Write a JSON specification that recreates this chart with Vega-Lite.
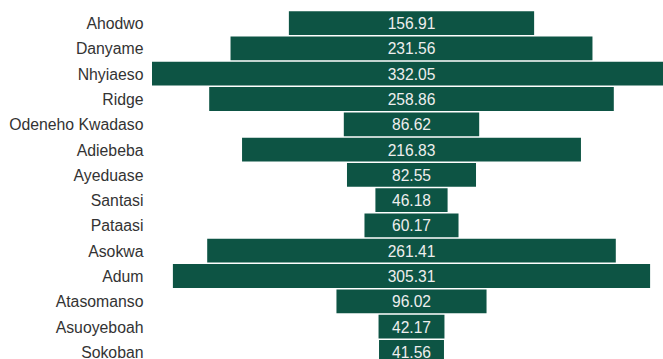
{
  "$schema": "https://vega.github.io/schema/vega-lite/v6.json",
  "autosize": {"type": "none"},
  "padding": {"left": 152, "top": 10.5, "right": 0, "bottom": 0},
  "width": 519,
  "height": 354,
  "background": "white",
  "config": {"view": {"stroke": null}, "font": "Liberation Sans"},
  "data": {"values": [
    {"area": "Ahodwo", "value": 156.91},
    {"area": "Danyame", "value": 231.56},
    {"area": "Nhyiaeso", "value": 332.05},
    {"area": "Ridge", "value": 258.86},
    {"area": "Odeneho Kwadaso", "value": 86.62},
    {"area": "Adiebeba", "value": 216.83},
    {"area": "Ayeduase", "value": 82.55},
    {"area": "Santasi", "value": 46.18},
    {"area": "Pataasi", "value": 60.17},
    {"area": "Asokwa", "value": 261.41},
    {"area": "Adum", "value": 305.31},
    {"area": "Atasomanso", "value": 96.02},
    {"area": "Asuoyeboah", "value": 42.17},
    {"area": "Sokoban", "value": 41.56}
  ]},
  "encoding": {
    "y": {
      "field": "area", "type": "nominal", "sort": null,
      "scale": {"paddingInner": 0.06, "paddingOuter": 0.03},
      "axis": {"title": null, "domain": false, "ticks": false, "labelPadding": 9, "labelOffset": 1, "labelFontSize": 15.8, "labelColor": "#333333", "labelFont": "Liberation Sans"}
    }
  },
  "layer": [
    {
      "mark": {"type": "bar", "color": "#0d5444"},
      "encoding": {
        "x": {"field": "value", "type": "quantitative", "stack": "center", "scale": {"domain": [0, 332.05], "nice": false, "zero": true}, "axis": null}
      }
    },
    {
      "mark": {"type": "text", "color": "#eeeeee", "fontSize": 15.6, "font": "Liberation Sans", "align": "center", "baseline": "middle", "dy": 1},
      "encoding": {
        "x": {"field": "value", "type": "quantitative", "stack": "center", "bandPosition": 0.5},
        "text": {"field": "value", "type": "quantitative", "format": ".2f"}
      }
    }
  ]
}
